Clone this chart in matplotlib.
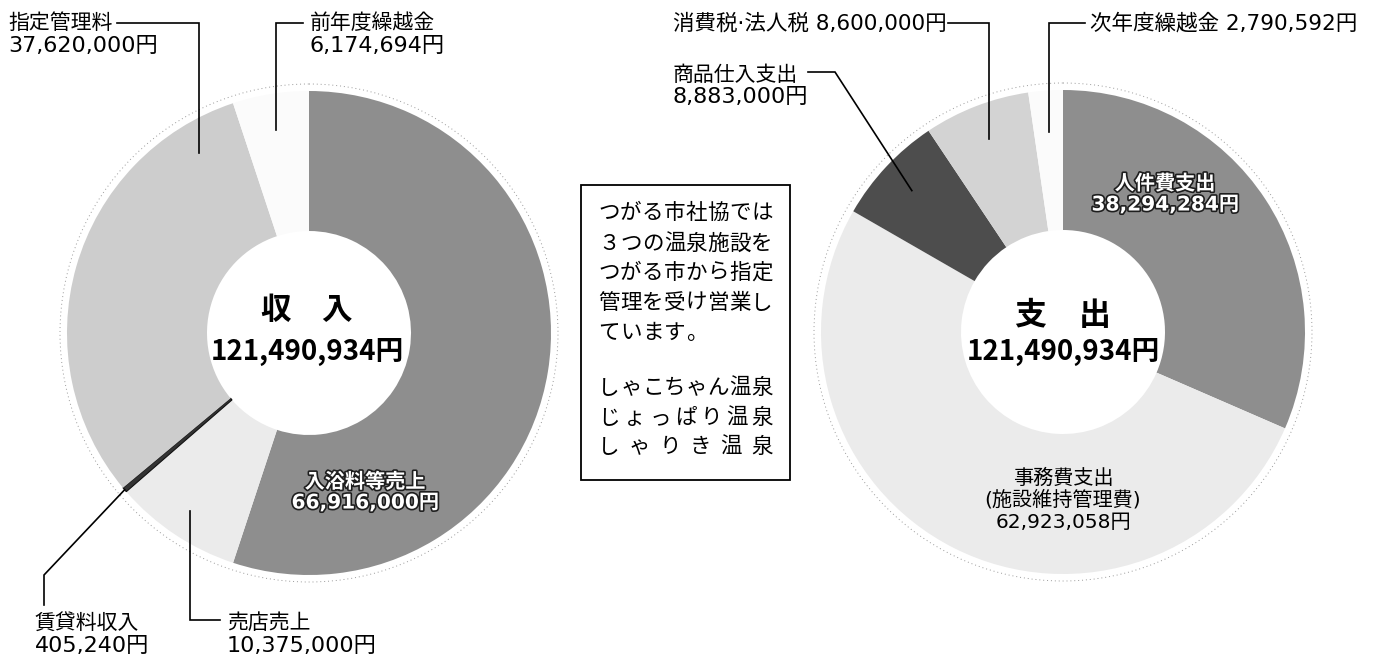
import numpy as np
import matplotlib.pyplot as plt
import matplotlib.patheffects as pe
from matplotlib.patches import Circle, Rectangle

plt.rcParams['font.family'] = ['DejaVu Sans', 'Noto Sans CJK JP']

# 収入
income_labels = ['入浴料等売上', '売店売上', '賃貸料収入', '指定管理料', '前年度繰越金']
income_values = [66916000, 10375000, 405240, 37620000, 6174694]
income_colors = ['#8e8e8e', '#ebebeb', '#333333', '#cdcdcd', '#fbfbfb']

# 支出
expense_labels = ['人件費支出', '事務費支出', '商品仕入支出', '消費税·法人税', '次年度繰越金']
expense_values = [38294284, 62923058, 8883000, 8600000, 2790592]
expense_colors = ['#8e8e8e', '#ebebeb', '#4d4d4d', '#d3d3d3', '#fbfbfb']

box_lines = ['つがる市社協では', '３つの温泉施設を', 'つがる市から指定', '管理を受け営業し',
             'ています。', '', 'しゃこちゃん温泉', 'じょっぱり温泉', 'しゃりき温泉']

R = 242
R_HOLE = 102
FS_NAME = 15
FS_NUM = 16

fig = plt.figure(figsize=(13.75, 6.55), dpi=100)
ax = fig.add_axes([0, 0, 1, 1])


def donut(cx, cy, values, colors):
    wedges, _ = ax.pie(values, colors=colors, center=(cx, cy), radius=R,
                       startangle=270, counterclock=True, frame=True,
                       wedgeprops=dict(width=R - R_HOLE, linewidth=0))
    ax.add_patch(Circle((cx, cy), R + 7, fill=False, ls=(0, (1, 3)),
                        color='#9a9a9a', lw=0.7))
    return wedges


def mid(w, r):
    th = np.deg2rad((w.theta1 + w.theta2) / 2)
    return w.center[0] + r * np.cos(th), w.center[1] + r * np.sin(th)


def fmt(v):
    return f'{v:,}円'


def leader(pts):
    xs, ys = zip(*pts)
    ax.plot(xs, ys, color='black', lw=1.2, solid_joinstyle='miter')


def outlined(x, y, s):
    ax.text(x, y, s, ha='center', va='center', fontsize=14.5, fontweight='bold',
            color='white',
            path_effects=[pe.withStroke(linewidth=2.4, foreground='#1e1e1e')])


# ---- 収入 ----
inc = donut(309, 333, income_values, income_colors)
inc[2].set_edgecolor('#111111')
inc[2].set_linewidth(0.8)

ax.text(307, 310, '収　入', ha='center', va='center', fontsize=22,
        fontweight='bold', family='Noto Sans CJK JP')
ax.text(307, 352, fmt(sum(income_values)), ha='center', va='center',
        fontsize=20, fontweight='bold', family='Noto Sans CJK JP')

outlined(365, 482, income_labels[0])
outlined(365, 503, fmt(income_values[0]))

# 指定管理料
ax.text(8, 23, income_labels[3], va='center', fontsize=FS_NAME)
ax.text(8, 46, fmt(income_values[3]), va='center', fontsize=FS_NUM)
leader([(117, 23), (199, 23), (199, 153)])

# 前年度繰越金
px, py = mid(inc[4], 206)
ax.text(310, 23, income_labels[4], va='center', fontsize=FS_NAME)
ax.text(310, 46, fmt(income_values[4]), va='center', fontsize=FS_NUM)
leader([(303, 23), (px, 23), (px, py)])

# 賃貸料収入
px, py = mid(inc[2], R)
ax.text(35, 623, income_labels[2], va='center', fontsize=FS_NAME)
ax.text(35, 646, fmt(income_values[2]), va='center', fontsize=FS_NUM)
leader([(px, py), (44, 575), (44, 605)])

# 売店売上
px, py = mid(inc[1], 214)
ax.text(227, 623, income_labels[1], va='center', fontsize=FS_NAME)
ax.text(227, 646, fmt(income_values[1]), va='center', fontsize=FS_NUM)
leader([(px, py), (px, 620), (220, 620)])

# ---- 支出 ----
exp = donut(1063, 332, expense_values, expense_colors)

ax.text(1063, 316, '支　出', ha='center', va='center', fontsize=23,
        fontweight='bold', family='Noto Sans CJK JP')
ax.text(1063, 352, fmt(sum(expense_values)), ha='center', va='center',
        fontsize=20, fontweight='bold', family='Noto Sans CJK JP')

outlined(1165, 184, expense_labels[0])
outlined(1165, 205, fmt(expense_values[0]))

ax.text(1063, 478, expense_labels[1], ha='center', va='center', fontsize=14.5)
ax.text(1063, 500, '(施設維持管理費)', ha='center', va='center', fontsize=14.5)
ax.text(1063, 522, fmt(expense_values[1]), ha='center', va='center', fontsize=14.5)

# 消費税·法人税
px, py = mid(exp[3], 207)
ax.text(673, 23, f'{expense_labels[3]} {fmt(expense_values[3])}', va='center',
        fontsize=15.5)
leader([(948, 23), (px, 23), (px, py)])

# 次年度繰越金
px, py = mid(exp[4], 201)
ax.text(1090, 23, f'{expense_labels[4]} {fmt(expense_values[4])}', va='center',
        fontsize=15.5)
leader([(1085, 23), (px, 23), (px, py)])

# 商品仕入支出
px, py = mid(exp[2], 207)
ax.text(673, 75, expense_labels[2], va='center', fontsize=FS_NAME)
ax.text(673, 97, fmt(expense_values[2]), va='center', fontsize=FS_NUM)
leader([(808, 72), (835, 72), (px, py)])

# ---- 説明ボックス ----
ax.add_patch(Rectangle((581, 185), 209, 295, fill=False, ec='black', lw=1.3))
line_y = [213, 244, 273, 303, 333, 360, 388, 418, 447]
x0, x1 = 598, 773
pitch = (x1 - x0) / 8
for text, y in zip(box_lines, line_y):
    n = len(text)
    if n == 0:
        continue
    if n < 8 and not text.endswith('。'):
        step = (x1 - x0 - pitch) / (n - 1)
    else:
        step = pitch
    for i, ch in enumerate(text):
        ax.text(x0 + pitch / 2 + i * step, y, ch, ha='center', va='center',
                fontsize=15.5, family='Noto Sans CJK JP')

ax.set_xlim(0, 1375)
ax.set_ylim(655, 0)
ax.set_aspect('equal')
ax.axis('off')

fig.savefig('out.png', dpi=100, facecolor='white')
